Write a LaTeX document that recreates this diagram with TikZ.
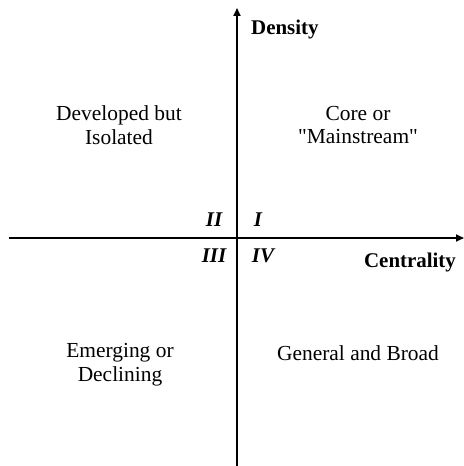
\documentclass[tikz,border=0pt]{standalone}
\usepackage{fontspec}
\setmainfont{Liberation Serif}[Ligatures=TeXOff]
\usetikzlibrary{arrows.meta, positioning}

\begin{document}
\begin{tikzpicture}[
    x=1bp, y=-1bp,
    font=\fontsize{21.5}{24}\selectfont,
    quad/.style={align=center, inner sep=0pt},
    axislabel/.style={font=\fontsize{21}{24}\selectfont\bfseries, inner sep=0pt},
    roman/.style={font=\fontsize{21}{24}\selectfont\bfseries\itshape, inner sep=0pt},
    axis/.style={-{Triangle[length=8bp, width=7bp]}, line width=1.8bp},
  ]
  \useasboundingbox (0,0) rectangle (464,466);

  % axis end points
  \coordinate (xstart) at (9,238);
  \coordinate (xend)   at (464,238);
  \coordinate (ystart) at (237,466);
  \coordinate (yend)   at (237,8);

  \draw[axis] (xstart) -- (xend);
  \draw[axis] (ystart) -- (yend);

  \node[axislabel, anchor=west] (density)    at (251,30)  {Density};
  \node[axislabel]              (centrality) at (410,262) {Centrality};

  \node[roman] (q2) at (214,220) {II};
  \node[roman] (q1) at (258,220) {I};
  \node[roman] (q3) at (214,256) {III};
  \node[roman] (q4) at (263,256) {IV};

  \node[quad] (isolated)   at (119,125) {Developed but\\Isolated};
  \node[quad] (mainstream) at (358,125) {Core or\\"Mainstream"};
  \node[quad] (emerging)   at (120,365) {Emerging or\\Declining};
  \node[quad] (general)    at (358,353) {General and Broad};
\end{tikzpicture}
\end{document}
